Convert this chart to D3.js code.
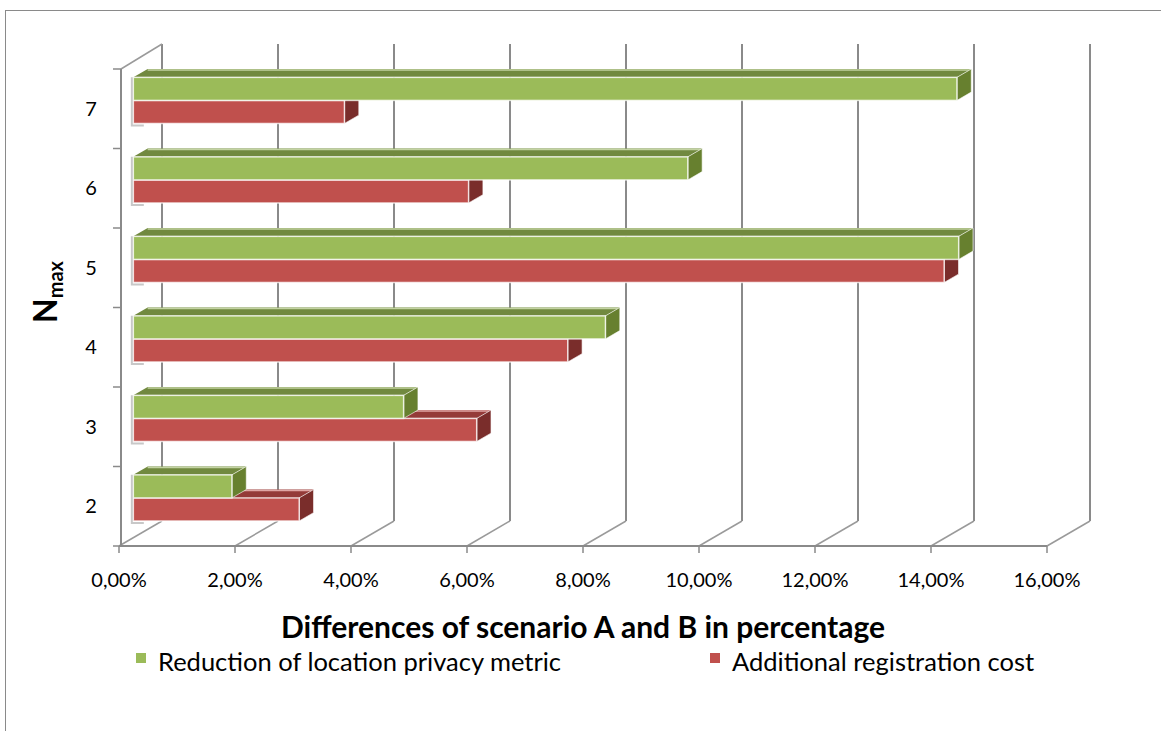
<!DOCTYPE html>
<html lang="en">
<head>
<meta charset="UTF-8">
<title>Differences of scenario A and B</title>
<script src="https://d3js.org/d3.v7.min.js"></script>
<style>
body { margin: 0; background: #fff; }
svg { display: block; font-family: Lato, "Open Sans", sans-serif; }
</style>
</head>
<body>
<svg width="1161" height="731"></svg>
<script>
// data (values in %)
const categories = ["2", "3", "4", "5", "6", "7"];
const seriesNames = ["Reduction of location privacy metric", "Additional registration cost"];
const reduction = [1.70, 4.66, 8.14, 14.23, 9.56, 14.20];
const additional = [2.86, 5.92, 7.49, 13.98, 5.78, 3.64];
const xTicks = [0, 2, 4, 6, 8, 10, 12, 14, 16];

const palette = [
  { front: "#9bbb59", top: "#71893f", side: "#67802f", edge: "#c3d3a2" },
  { front: "#c0504d", top: "#943a38", side: "#7a2d2b", edge: "#e0a6a4" }
];

const svg = d3.select("svg");

// oblique 3D: depth offset of the back wall
const DX = 43, DY = 25;
const x = d3.scaleLinear().domain([0, 16]).range([119, 1047]);
const y = d3.scaleBand().domain(categories.slice().reverse()).range([69, 546]);
const inner = d3.scaleBand().domain([0, 1])
    .range([y.bandwidth() * 0.21, y.bandwidth() * 0.79]);

const pctLocale = d3.formatLocale({ decimal: ",", thousands: ".", grouping: [3], currency: ["", ""] });
const fmt = v => pctLocale.format(".2f")(v) + "%";

const grid = "#8a8a8a";

// chart border
svg.append("rect")
    .attr("x", 5.5).attr("y", 10.5)
    .attr("width", 1180).attr("height", 740)
    .attr("fill", "none").attr("stroke", grid);

// back wall gridlines
svg.append("g").selectAll("line")
  .data(xTicks)
  .enter().append("line")
    .attr("x1", d => x(d) + DX).attr("x2", d => x(d) + DX)
    .attr("y1", y.range()[0] - DY).attr("y2", y.range()[1] - DY)
    .attr("stroke", grid).attr("stroke-width", 2);

// floor diagonals
svg.append("g").selectAll("line")
  .data(xTicks)
  .enter().append("line")
    .attr("x1", d => x(d)).attr("y1", y.range()[1])
    .attr("x2", d => x(d) + DX).attr("y2", y.range()[1] - DY)
    .attr("stroke", "#9a9a9a").attr("stroke-width", 1.5);

// side wall top edge
svg.append("line")
    .attr("x1", x(0) + 2).attr("y1", y.range()[0])
    .attr("x2", x(0) + DX).attr("y2", y.range()[0] - DY)
    .attr("stroke", "#9a9a9a").attr("stroke-width", 1.5);

// left axis with ticks at band edges
svg.append("line")
    .attr("x1", x(0) + 2).attr("x2", x(0) + 2)
    .attr("y1", y.range()[0]).attr("y2", y.range()[1])
    .attr("stroke", grid).attr("stroke-width", 2);
svg.append("g").selectAll("line")
  .data(categories.concat(["_"]))
  .enter().append("line")
    .attr("x1", x(0) - 6).attr("x2", x(0) + 2)
    .attr("y1", (d, i) => i < categories.length ? y(d) + y.bandwidth() : y.range()[0])
    .attr("y2", (d, i) => i < categories.length ? y(d) + y.bandwidth() : y.range()[0])
    .attr("stroke", grid).attr("stroke-width", 1.5);

// bottom axis
svg.append("line")
    .attr("x1", x(0)).attr("x2", x(16))
    .attr("y1", y.range()[1]).attr("y2", y.range()[1])
    .attr("stroke", grid).attr("stroke-width", 2);
svg.append("g").selectAll("line")
  .data(xTicks)
  .enter().append("line")
    .attr("x1", d => x(d)).attr("x2", d => x(d))
    .attr("y1", y.range()[1]).attr("y2", y.range()[1] + 7)
    .attr("stroke", grid).attr("stroke-width", 1.5);

svg.append("g")
    .attr("font-size", 20).attr("fill", "#000")
  .selectAll("text")
  .data(xTicks)
  .enter().append("text")
    .attr("x", d => x(d)).attr("y", 587)
    .attr("text-anchor", "middle")
    .text(fmt);

// category labels
svg.append("g")
    .attr("font-size", 20)
  .selectAll("text")
  .data(categories)
  .enter().append("text")
    .attr("x", 91).attr("y", d => y(d) + y.bandwidth() / 2)
    .attr("dy", "0.35em")
    .attr("text-anchor", "middle")
    .text(d => d);

// bars: front at depth 1/3, back at depth 2/3
const fdx = DX / 3, fdy = DY / 3;
const bars = [];
categories.forEach((c, i) => {
  // red first, green drawn over it
  [1, 0].forEach(s => {
    bars.push({ cat: c, s: s, v: s === 0 ? reduction[i] : additional[i] });
  });
});

const barG = svg.append("g");
bars.forEach(b => {
  const col = palette[b.s];
  const x0 = x(0) + fdx, x1 = x(b.v) + fdx;
  const y0 = y(b.cat) - fdy + inner(b.s), y1 = y0 + inner.bandwidth();
  const g = barG.append("g");
  // top face
  g.append("path")
      .attr("d", `M${x0},${y0}L${x1},${y0}L${x1 + fdx},${y0 - fdy}L${x0 + fdx},${y0 - fdy}Z`)
      .attr("fill", col.top);
  g.append("line")
      .attr("x1", x0 + fdx).attr("x2", x1 + fdx)
      .attr("y1", y0 - fdy + 1).attr("y2", y0 - fdy + 1)
      .attr("stroke", col.edge).attr("stroke-width", 1.5);
  // side face
  g.append("path")
      .attr("d", `M${x1},${y0}L${x1 + fdx},${y0 - fdy}L${x1 + fdx},${y1 - fdy}L${x1},${y1}Z`)
      .attr("fill", col.side)
      .attr("stroke", "#fff").attr("stroke-opacity", 0.6).attr("stroke-width", 1);
  // front face
  g.append("rect")
      .attr("x", x0).attr("y", y0)
      .attr("width", x1 - x0).attr("height", y1 - y0)
      .attr("fill", col.front)
      .attr("stroke", "#fff").attr("stroke-opacity", 0.75).attr("stroke-width", 1.5);
});

// light bracket at the start of each bar pair
svg.append("g").selectAll("path")
  .data(categories)
  .enter().append("path")
    .attr("d", d => {
      const xx = x(0) + fdx - 1.5;
      const top = y(d) - fdy + inner(0);
      const bot = y(d) - fdy + inner(1) + inner.bandwidth() + 2;
      return `M${xx},${top}L${xx},${bot}L${xx + 12},${bot}`;
    })
    .attr("fill", "none").attr("stroke", "#c8c8c8").attr("stroke-width", 2);

// axis titles
svg.append("text")
    .attr("x", 583).attr("y", 638)
    .attr("text-anchor", "middle")
    .attr("font-size", 30).attr("font-weight", "bold")
    .text("Differences of scenario A and B in percentage");

const yTitle = svg.append("text")
    .attr("transform", "translate(57,292) rotate(-90)")
    .attr("text-anchor", "middle")
    .attr("font-weight", "bold");
yTitle.append("tspan").attr("font-size", 32).text("N");
yTitle.append("tspan").attr("font-size", 20).attr("dy", 6).text("max");

// legend
const legend = svg.append("g").selectAll("g")
  .data(seriesNames)
  .enter().append("g")
    .attr("transform", (d, i) => `translate(${i === 0 ? 136 : 710},653)`);
legend.append("rect")
    .attr("width", 10).attr("height", 10)
    .attr("fill", (d, i) => palette[i].front);
legend.append("text")
    .attr("x", 22).attr("y", 18)
    .attr("font-size", 25.5)
    .text(d => d);
</script>
</body>
</html>
